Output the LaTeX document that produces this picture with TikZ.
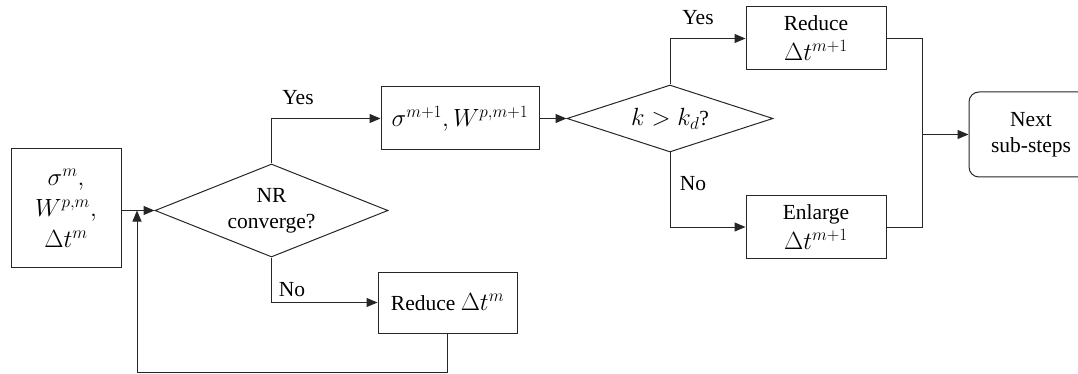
\documentclass[tikz,border=0pt]{standalone}
\usepackage{fontspec}
\setmainfont{Liberation Serif}
\newfontfamily\tnrfont{Liberation Serif}
\newcommand\mymth[1]{{\fontsize{24}{28}\selectfont$#1$}}
\usetikzlibrary{shapes.geometric,arrows.meta,positioning}
\begin{document}
\begin{tikzpicture}[x=1pt,y=-1pt,
  line width=1pt,
  every node/.style={font=\tnrfont\fontsize{21.5}{26}\selectfont, text=black},
  box/.style={draw=black!85, rectangle, inner sep=0pt, align=center},
  dia/.style={draw=black!85, diamond, inner sep=0pt, aspect=2.6, align=center},
  rbox/.style={draw=black!85, rectangle, rounded corners=10pt, inner sep=0pt, align=center},
  arr/.style={draw=black!85, -{Triangle[length=11pt,width=9pt]}},
  ln/.style={draw=black!85},
  lbl/.style={inner sep=0pt}
]
\useasboundingbox (0,0) rectangle (1078,374);
\clip (0,0) rectangle (1078,374);

\node[box, minimum width=110pt, minimum height=118pt] (in) at (66,208)
  {\mymth{\sigma^{m},}\\[5pt] \mymth{W^{p,m},}\\[5pt] \mymth{\Delta t^{m}}};
\node[dia, minimum width=233pt, minimum height=93pt] (nr) at (271.5,210.5)
  {NR\\converge?};
\node[box, minimum width=158pt, minimum height=63pt] (s1) at (460,118.5)
  {\mymth{\sigma^{m+1}, W^{p,m+1}}};
\node[dia, minimum width=206pt, minimum height=67pt] (kd) at (670,118.5)
  {\mymth{k > k_d}?};
\node[box, minimum width=139pt, minimum height=61pt] (red1) at (447.5,302.5)
  {Reduce \mymth{\Delta t^{m}}};
\node[box, minimum width=140pt, minimum height=63pt] (red2) at (816,38.5)
  {Reduce\\[4pt]\mymth{\Delta t^{m+1}}};
\node[box, minimum width=140pt, minimum height=62pt] (enl) at (816,227)
  {Enlarge\\[4pt]\mymth{\Delta t^{m+1}}};
\node[rbox, minimum width=124pt, minimum height=85pt] (next) at (1031,134.5)
  {Next\\sub-steps};

\coordinate (lp) at (137,372);
\coordinate (jt) at (922,38.5);
\coordinate (jb) at (922,227);
\coordinate (jm) at (922,134.5);

\draw[arr] (nr.west -| in.east) -- (nr.west);
\draw[arr] (nr.north) |- (s1.west);
\draw[arr] (nr.south) |- (red1.west);
\draw[arr] (red1.south) |- (lp) -- (lp |- nr.west);
\draw[arr] (s1.east) -- (kd.west);
\draw[arr] (kd.north) |- (red2.west);
\draw[arr] (kd.south) |- (enl.west);
\draw[ln] (red2.east) -- (jt) -- (jb) -- (enl.east);
\draw[arr] (jm) -- (next.west);

\node[lbl] (yes1) at (298,98) {Yes};
\node[lbl] (no1) at (292,290) {No};
\node[lbl] (yes2) at (698,18) {Yes};
\node[lbl] (no2) at (693,184) {No};
\end{tikzpicture}
\end{document}
